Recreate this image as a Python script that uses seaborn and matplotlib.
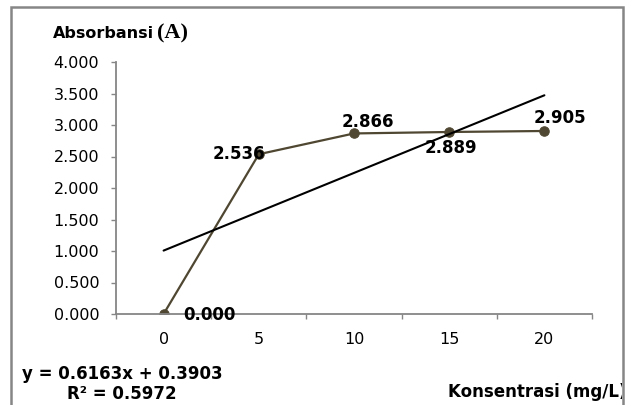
import numpy as np
import pandas as pd
import matplotlib
matplotlib.use("Agg")
import matplotlib.pyplot as plt
import seaborn as sns
from matplotlib.patches import Rectangle

# data
konsentrasi = ["0", "5", "10", "15", "20"]
absorbansi = [0.000, 2.536, 2.866, 2.889, 2.905]
y_ticks = [0.0, 0.5, 1.0, 1.5, 2.0, 2.5, 3.0, 3.5, 4.0]

# Excel's category axis runs 1..n, the trendline is fit on that index
idx = np.arange(1, len(konsentrasi) + 1)
df = pd.DataFrame({"idx": idx, "abs": absorbansi})

m, b = np.polyfit(idx, absorbansi, 1)
r2 = np.corrcoef(idx, absorbansi)[0, 1] ** 2

sns.set_style("ticks")
plt.rcParams["font.family"] = ["DejaVu Sans"]
plt.rcParams["text.color"] = "black"
plt.rcParams["xtick.labelcolor"] = "black"
plt.rcParams["ytick.labelcolor"] = "black"

W, H = 625, 405
fig = plt.figure(figsize=(W / 100, H / 100), dpi=100)
ax = fig.add_axes([116 / W, 1 - 314 / H, (592 - 116) / W, (314 - 62) / H])

line_col = "#4f4731"
gray = "#868686"

sns.lineplot(data=df, x="idx", y="abs", ax=ax, color=line_col, lw=1.6,
             marker="o", markersize=6.8, markeredgecolor=line_col, zorder=2)
sns.regplot(data=df, x="idx", y="abs", ax=ax, scatter=False, ci=None,
            truncate=True, color="black", line_kws={"lw": 1.5, "zorder": 3})

# data labels (offsets in points)
lbl_pos = [
    (14.5, -1, "left"),
    (5, 0, "right"),
    (10, 8, "center"),
    (1.5, -11.5, "center"),
    (11, 9, "center"),
]
for x, y, (dx, dy, ha) in zip(idx, absorbansi, lbl_pos):
    ax.annotate(f"{y:.3f}", (x, y), xytext=(dx, dy), textcoords="offset points",
                ha=ha, va="center", fontsize=12, fontweight="bold", zorder=5)

ax.set_xlim(0.5, len(konsentrasi) + 0.5)
ax.set_ylim(0, 4)
ax.set_xticks(idx, labels=konsentrasi)
ax.set_xticks(np.arange(0.5, len(konsentrasi) + 1, 1), minor=True)
ax.set_yticks(y_ticks, labels=[f"{t:.3f}" for t in y_ticks])
ax.tick_params(axis="x", which="major", length=0, pad=13, labelsize=11.5)
ax.tick_params(axis="x", which="minor", length=3.6, width=1, color=gray, direction="out")
ax.tick_params(axis="y", length=3.6, width=1, color=gray, pad=8.5, labelsize=11.5)
ax.set_xlabel("")
ax.set_ylabel("")
for side in ["top", "right"]:
    ax.spines[side].set_visible(False)
for side in ["left", "bottom"]:
    ax.spines[side].set_color(gray)
    ax.spines[side].set_linewidth(1.3)

# axis titles and trendline equation
fig.text(53 / W, 1 - 33 / H, "Absorbansi", fontsize=11.5, fontweight="bold",
         ha="left", va="center")
fig.text(157 / W, 1 - 33 / H, "(A)", fontsize=16, fontweight="bold",
         family=["Liberation Serif"], ha="left", va="center")
fig.text(122 / W, 1 - 384 / H, f"y = {m:.4f}x + {b:.4f}\nR² = {r2:.4f}",
         fontsize=12, fontweight="bold", ha="center", va="center",
         linespacing=1.2)
fig.text(448 / W, 1 - 392 / H, "Konsentrasi (mg/L)", fontsize=12,
         fontweight="bold", ha="left", va="center")

# chart area border, text past it gets cut off
fig.patches.append(Rectangle((622 / W, 0), 1, 1, transform=fig.transFigure,
                             facecolor="white", edgecolor="none", zorder=10))
fig.patches.append(Rectangle((11 / W, -0.1), (623 - 11) / W, 1.1 - 7 / H,
                             transform=fig.transFigure, fill=False,
                             edgecolor=gray, lw=1.8, zorder=11))

fig.savefig("out.png", dpi=100)
